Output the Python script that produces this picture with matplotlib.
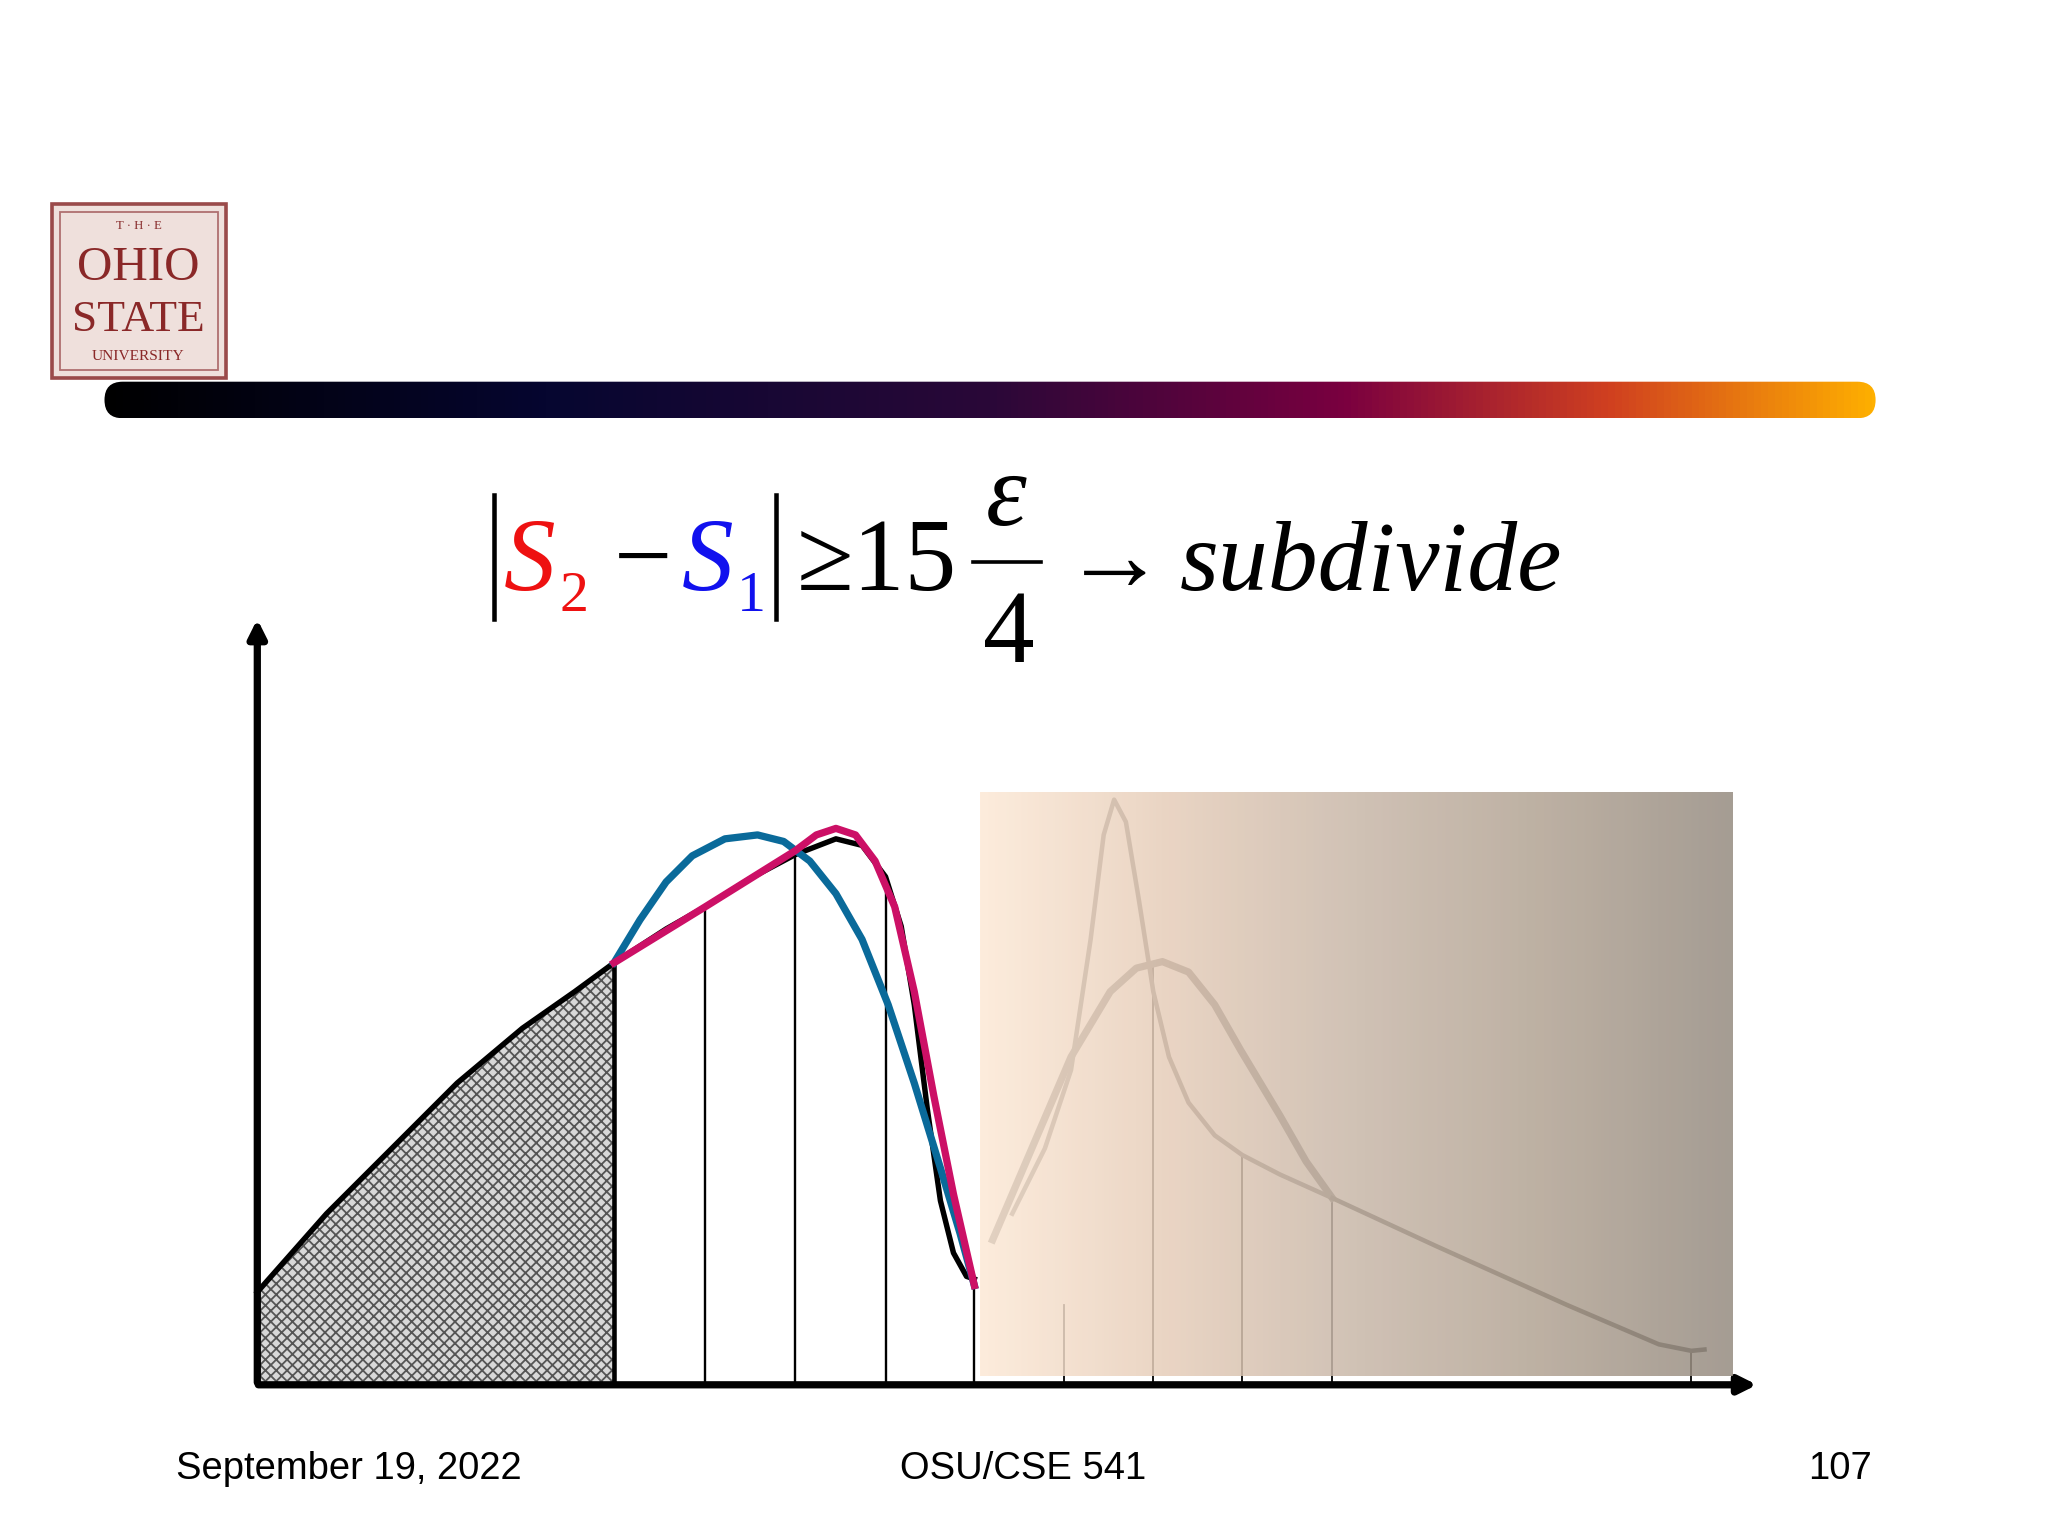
import numpy as np
import matplotlib
matplotlib.use("Agg")
import matplotlib.pyplot as plt
from matplotlib.patches import FancyBboxPatch, Rectangle
from matplotlib.colors import LinearSegmentedColormap

# ---- data (slide pixel coordinates, y down) ----
black_x = [197,250,300,350,400,440,470,510,540,575,609,640,660,678,690,700,710,720,730,740,746]
black_y = [990,930,880,830,788,760,738,712,695,673,655,643,648,672,710,770,850,920,960,978,980]
blue_x = [470,490,510,530,555,580,600,620,640,660,680,700,720,735,746]
blue_y = [738,705,676,656,643,640,645,660,685,720,770,830,895,945,985]
mag_x = [470,540,609,625,640,655,670,685,700,715,730,746]
mag_y = [738,695,652,640,635,640,660,695,760,840,915,985]
sharp_x = [775,800,820,835,845,853,862,872,883,895,910,930,951,980,1020]
sharp_y = [930,880,820,720,640,613,630,690,760,810,845,870,885,900,918]
broad_x = [760,790,820,850,870,890,910,930,950,980,1000,1020]
broad_y = [950,880,810,760,742,737,745,770,805,855,890,918]
tail_x = [1020,1100,1200,1270,1295,1305]
tail_y = [918,955,1000,1030,1035,1034]
strip_x = [470,540,609,678,746]
faded_strip_x = [815,883,951,1020,1295]
footer_left, footer_mid, footer_right = "September 19, 2022", "OSU/CSE 541", "107"

fig = plt.figure(figsize=(15.68, 11.76), dpi=130.612)
ax = fig.add_axes([0, 0, 1, 1])
ax.set_xlim(0, 1568); ax.set_ylim(1176, 0); ax.axis("off")

# logo
ax.add_patch(Rectangle((40, 157), 133, 133, facecolor="#efe0dc", edgecolor="#9a4a4a", lw=2))
ax.add_patch(Rectangle((46, 163), 121, 121, facecolor="none", edgecolor="#b07070", lw=1))
ax.text(106, 173, "T · H · E", ha="center", va="center", fontsize=7, color="#8a3030", family="Liberation Serif")
ax.text(106, 205, "OHIO", ha="center", va="center", fontsize=27, color="#8a2828", family="Liberation Serif")
ax.text(106, 245, "STATE", ha="center", va="center", fontsize=25, color="#8a2828", family="Liberation Serif")
ax.text(106, 273, "UNIVERSITY", ha="center", va="center", fontsize=8.5, color="#8a2828", family="Liberation Serif")

# gradient bar
cm = LinearSegmentedColormap.from_list("bar", [(0, "#000000"), (0.25, "#060630"), (0.5, "#2a0838"),
                                               (0.7, "#7a0040"), (0.85, "#d04020"), (1, "#ffb000")])
im = ax.imshow(np.linspace(0, 1, 256)[None, :], cmap=cm, extent=(78, 1438, 321, 293), aspect="auto", zorder=2)
clip = FancyBboxPatch((80, 293), 1356, 28, boxstyle="round,pad=0,rounding_size=14",
                      facecolor="none", edgecolor="none", transform=ax.transData)
ax.add_patch(clip); im.set_clip_path(clip)
ax.set_xlim(0, 1568); ax.set_ylim(1176, 0)

# formula
serif = "Liberation Serif"
fs = 57
ax.plot([378, 378], [380, 475], color="black", lw=2.5)
ax.plot([594, 594], [380, 475], color="black", lw=2.5)
ax.text(386, 452, "S", fontsize=fs, color="#ee1111", family=serif, style="italic", va="baseline")
ax.text(428, 468, "2", fontsize=32, color="#ee1111", family=serif, va="baseline")
ax.text(470, 452, "−", fontsize=fs, color="black", family=serif, va="baseline")
ax.text(522, 452, "S", fontsize=fs, color="#1111ee", family=serif, style="italic", va="baseline")
ax.text(564, 468, "1", fontsize=32, color="#1111ee", family=serif, va="baseline")
ax.text(610, 452, "≥15", fontsize=fs, color="black", family=serif, va="baseline")
ax.text(770, 402, "ε", fontsize=fs, color="black", family=serif, style="italic", ha="center", va="baseline")
ax.plot([745, 797], [431, 431], color="black", lw=2)
ax.text(772, 507, "4", fontsize=fs, color="black", family=serif, ha="center", va="baseline")
ax.text(814, 452, "→", fontsize=fs, color="black", family=serif, va="baseline")
ax.text(903, 452, "subdivide", fontsize=fs - 2, color="black", family=serif, style="italic", va="baseline")

# hatched area
hx = [x for x in black_x if x <= 470]; hy = black_y[:len(hx)]
ax.fill_between(hx, hy, 1060, facecolor="#d8d8d8", edgecolor="#555555", hatch="xxxx", lw=0, zorder=1)
for x in strip_x:
    ax.plot([x, x], [np.interp(x, black_x, black_y), 1060], color="black", lw=1.3)
ax.plot([470, 470], [738, 1060], color="black", lw=2.5)

ax.plot(black_x, black_y, color="black", lw=3)
ax.plot(blue_x, blue_y, color="#0a6a9a", lw=4)
ax.plot(mag_x, mag_y, color="#cc1066", lw=4)

# axes arrows
ax.annotate("", xy=(197, 472), xytext=(197, 1062), arrowprops=dict(arrowstyle="-|>", lw=4, color="black", mutation_scale=20))
ax.annotate("", xy=(1348, 1061), xytext=(195, 1061), arrowprops=dict(arrowstyle="-|>", lw=4, color="black", mutation_scale=20))

# faded overlay panel with curves
fy = {815: 1000, 883: 737, 951: 885, 1020: 918, 1295: 1035}
for x in faded_strip_x:
    ax.plot([x, x], [fy[x], 1060], color="black", lw=1)
ax.plot(sharp_x, sharp_y, color="#555", lw=2.5)
ax.plot(broad_x, broad_y, color="#555", lw=4)
ax.plot(tail_x, tail_y, color="#333", lw=2.5)
pcm = LinearSegmentedColormap.from_list("panel", ["#fde9d6", "#e6cdb9", "#c8b7a8", "#b1a292", "#958b80"])
ax.imshow(np.linspace(0, 1, 256)[None, :], cmap=pcm, extent=(750, 1326, 1054, 607), aspect="auto", alpha=0.85, zorder=5)
ax.set_xlim(0, 1568); ax.set_ylim(1176, 0)

# footer
ax.text(135, 1125, footer_left, fontsize=21, family="Liberation Sans", va="center")
ax.text(783, 1125, footer_mid, fontsize=21, family="Liberation Sans", va="center", ha="center")
ax.text(1433, 1125, footer_right, fontsize=21, family="Liberation Sans", va="center", ha="right")

fig.savefig("out.png", dpi=130.612)
